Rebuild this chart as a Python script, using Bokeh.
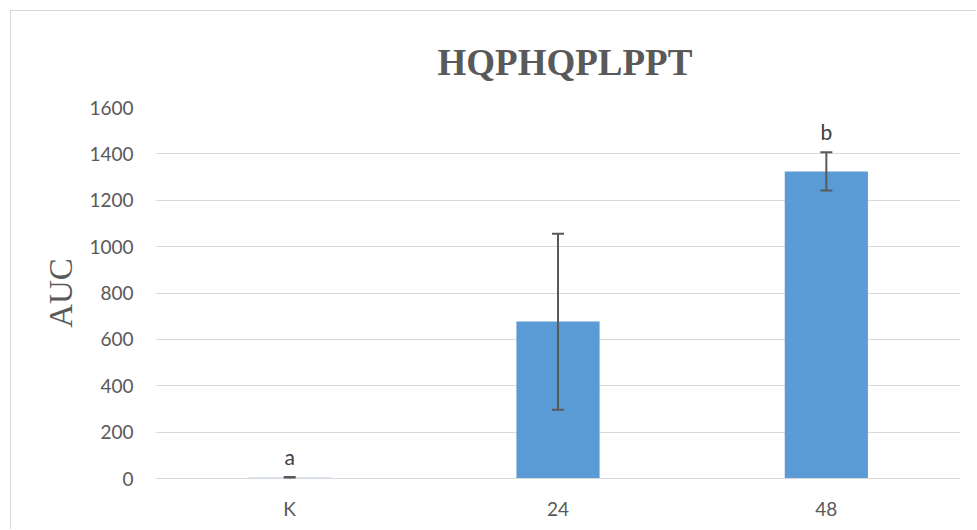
from bokeh.plotting import figure
from bokeh.models import ColumnDataSource, FactorRange, Range1d, FixedTicker, Whisker, LabelSet
from bokeh.core.properties import value
from bokeh.embed import file_html
from bokeh.resources import INLINE

chart_title = "HQPHQPLPPT"
categories = ["K", "24", "48"]
auc_values = [3, 677, 1324]
err_lower = [0, 297, 1242]
err_upper = [7, 1056, 1407]
sig_letters = ["a", "", "b"]
y_ticks = [0, 200, 400, 600, 800, 1000, 1200, 1400, 1600]

src = ColumnDataSource(data=dict(cat=categories, val=auc_values, lo=err_lower,
                                 hi=err_upper, letter=sig_letters))

p = figure(x_range=FactorRange(*categories), y_range=Range1d(0, 1600),
           width=966, height=519, output_backend="svg", toolbar_location=None,
           min_border_left=144, min_border_right=17, min_border_top=96, min_border_bottom=52,
           styles={"border-left": "1px solid #d9d9d9", "border-top": "1px solid #d9d9d9",
                   "margin-left": "10px", "margin-top": "10px"})

p.title.text = chart_title
p.title.align = "left"
p.title.offset = 282
p.title.vertical_align = "bottom"
p.title.text_font = "Liberation Serif"
p.title.text_font_style = "bold"
p.title.text_font_size = "37px"
p.title.text_color = "#595959"
p.title.standoff = 50

p.outline_line_color = None
p.background_fill_color = "white"
p.border_fill_color = "white"

p.vbar(x="cat", top="val", width=0.31, source=src, fill_color="#5b9bd5", line_color=None)

w = Whisker(source=src, base="cat", lower="lo", upper="hi",
            line_color="#595959", line_width=2, level="overlay")
w.upper_head.line_color = "#595959"
w.lower_head.line_color = "#595959"
w.upper_head.line_width = 2
w.lower_head.line_width = 2
w.upper_head.size = 12
w.lower_head.size = 12
p.add_layout(w)

labels = LabelSet(x="cat", y="hi", text="letter", source=src, text_align="center",
                  text_baseline="bottom", y_offset=8, text_font=value("Lato"),
                  text_font_size=value("21px"), text_color="#404040", level="overlay")
p.add_layout(labels)

p.yaxis.ticker = FixedTicker(ticks=y_ticks)
p.yaxis.axis_label = "AUC"
p.yaxis.axis_label_text_font = "Liberation Serif"
p.yaxis.axis_label_text_font_style = "normal"
p.yaxis.axis_label_text_font_size = "33px"
p.yaxis.axis_label_text_color = "#595959"
p.yaxis.axis_label_standoff = 7
p.yaxis.axis_line_color = None
p.yaxis.major_tick_line_color = None
p.yaxis.minor_tick_line_color = None
p.yaxis.major_tick_out = 0
p.yaxis.major_tick_in = 0
p.yaxis.major_label_standoff = 22

p.xaxis.axis_line_color = "#d9d9d9"
p.xaxis.axis_line_width = 1
p.xaxis.major_tick_line_color = None
p.xaxis.minor_tick_line_color = None
p.xaxis.major_tick_out = 0
p.xaxis.major_tick_in = 0
p.xaxis.major_label_standoff = 18

for ax in (p.xaxis, p.yaxis):
    ax.major_label_text_font = "Lato"
    ax.major_label_text_font_size = "19px"
    ax.major_label_text_color = "#595959"

p.xgrid.grid_line_color = None
p.ygrid.grid_line_color = "#d9d9d9"
p.ygrid.grid_line_width = 1

open("out.html", "w").write(file_html(p, INLINE))
